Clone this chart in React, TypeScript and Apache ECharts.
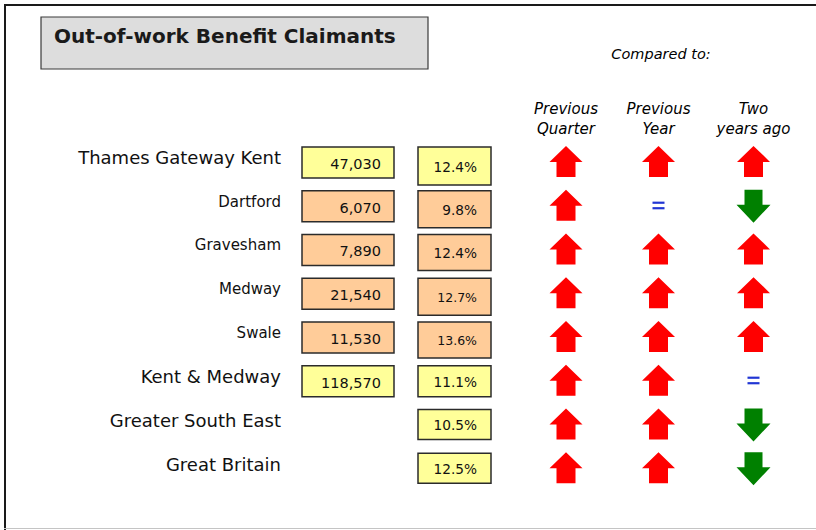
import React, { useEffect, useRef } from 'react';
import * as echarts from 'echarts';

// ---------- data ----------
const titleText = 'Out-of-work Benefit Claimants';
const comparedToText = 'Compared to:';
const areas = [
  'Thames Gateway Kent',
  'Dartford',
  'Gravesham',
  'Medway',
  'Swale',
  'Kent & Medway',
  'Greater South East',
  'Great Britain',
];
const areaLevels = ['sub-region', 'district', 'district', 'district', 'district', 'county', 'region', 'country'];
const claimants: (number | null)[] = [47030, 6070, 7890, 21540, 11530, 118570, null, null];
const claimantRates = [12.4, 9.8, 12.4, 12.7, 13.6, 11.1, 10.5, 12.5];
const comparisonHeaders = ['Previous\nQuarter', 'Previous\nYear', 'Two\nyears ago'];
const changeVsPreviousQuarter = ['up', 'up', 'up', 'up', 'up', 'up', 'up', 'up'];
const changeVsPreviousYear = ['up', 'same', 'up', 'up', 'up', 'up', 'up', 'up'];
const changeVsTwoYearsAgo = ['up', 'down', 'up', 'up', 'up', 'same', 'down', 'down'];

// ---------- layout (positions / sizes / styles) ----------
const FONT = '"DejaVu Sans", Verdana, sans-serif';
const LABEL_RIGHT = 281;
const COUNT_X = 348;
const RATE_X = 454.5;
const COMPARISON_X = [566, 658.5, 753.5];
const COUNT_W = 92;
const COUNT_H = 31;
const RATE_W = 73;
const RATE_H = [38, 37, 36, 37, 36, 31, 30, 30];
const RATE_FONT = [13.7, 13.7, 13.7, 12.5, 12.5, 13.7, 13.7, 13.7];
const YELLOW = '#ffff99';
const ORANGE = '#ffcc99';

const isDistrict = (i: number) => areaLevels[i] === 'district';
const fmtCount = (v: number) => v.toLocaleString('en-GB');
const fmtRate = (v: number) => v.toFixed(1) + '%';

const changeColumns = [changeVsPreviousQuarter, changeVsPreviousYear, changeVsTwoYearsAgo];

export default function App() {
  const ref = useRef<HTMLDivElement>(null);

  useEffect(() => {
    if (!ref.current) return;
    const chart = echarts.init(ref.current, null, { renderer: 'svg' });

    const labelData = areas.map((_, i) => [LABEL_RIGHT, i]);
    const countData: number[][] = [];
    claimants.forEach((v, i) => {
      if (v != null) countData.push([COUNT_X, i, v]);
    });
    const rateData = claimantRates.map((v, i) => [RATE_X, i, v]);
    const changeData: any[] = [];
    const changeDirs: string[] = [];
    changeColumns.forEach((col, c) => {
      col.forEach((d, i) => {
        changeData.push([COMPARISON_X[c], i]);
        changeDirs.push(d);
      });
    });

    const option: any = {
      animation: false,
      backgroundColor: '#ffffff',
      grid: { left: 0, right: 0, top: 141, height: 350 },
      xAxis: { type: 'value', min: 0, max: 816, show: false },
      yAxis: { type: 'category', data: areas, inverse: true, show: false },
      graphic: [
        // frame
        { type: 'line', shape: { x1: 5, y1: 4, x2: 5, y2: 530 }, style: { stroke: '#1a1a1a', lineWidth: 2 } },
        { type: 'line', shape: { x1: 4, y1: 5, x2: 816, y2: 5 }, style: { stroke: '#1a1a1a', lineWidth: 2 } },
        { type: 'line', shape: { x1: 4, y1: 528.5, x2: 816, y2: 528.5 }, style: { stroke: '#c4c4c4', lineWidth: 1 } },
        // title box
        {
          type: 'rect',
          shape: { x: 41, y: 17, width: 387, height: 52 },
          style: { fill: '#dddddd', stroke: '#3a3a3a', lineWidth: 1.2 },
        },
        {
          type: 'text',
          x: 54,
          y: 36,
          style: {
            text: titleText,
            fontFamily: FONT,
            fontSize: 20,
            fontWeight: 'bold',
            fill: '#1a1a1a',
            verticalAlign: 'middle',
            align: 'left',
          },
        },
        {
          type: 'text',
          x: 661,
          y: 54,
          style: {
            text: comparedToText,
            fontFamily: FONT,
            fontSize: 14.5,
            fontStyle: 'italic',
            fill: '#000',
            align: 'center',
            verticalAlign: 'middle',
          },
        },
        ...comparisonHeaders.map((h, c) => ({
          type: 'text',
          x: COMPARISON_X[c],
          y: 119,
          style: {
            text: h,
            fontFamily: FONT,
            fontSize: 15,
            fontStyle: 'italic',
            lineHeight: 20,
            fill: '#000',
            align: 'center',
            verticalAlign: 'middle',
          },
        })),
      ],
      series: [
        {
          type: 'custom',
          name: 'labels',
          coordinateSystem: 'cartesian2d',
          encode: { x: 0, y: 1 },
          data: labelData,
          renderItem: (params: any, api: any) => {
            const i = params.dataIndex;
            const [x, y] = api.coord([api.value(0), api.value(1)]);
            return {
              type: 'text',
              style: {
                text: areas[i],
                x,
                y: y - 5,
                fontFamily: FONT,
                fontSize: isDistrict(i) ? 15 : 18,
                fill: '#111',
                align: 'right',
                verticalAlign: 'middle',
              },
            };
          },
        },
        {
          type: 'custom',
          name: 'claimants',
          coordinateSystem: 'cartesian2d',
          encode: { x: 0, y: 1 },
          data: countData,
          renderItem: (params: any, api: any) => {
            const row = api.value(1);
            const [cx, cy] = api.coord([api.value(0), row]);
            const top = cy - 16;
            return {
              type: 'group',
              children: [
                {
                  type: 'rect',
                  shape: { x: cx - COUNT_W / 2, y: top, width: COUNT_W, height: COUNT_H },
                  style: { fill: isDistrict(row) ? ORANGE : YELLOW, stroke: '#2b2b2b', lineWidth: 1.5 },
                },
                {
                  type: 'text',
                  style: {
                    text: fmtCount(api.value(2)),
                    x: cx + COUNT_W / 2 - 13,
                    y: top + COUNT_H / 2 + 1.5,
                    fontFamily: FONT,
                    fontSize: 14.5,
                    fill: '#111',
                    align: 'right',
                    verticalAlign: 'middle',
                  },
                },
              ],
            };
          },
        },
        {
          type: 'custom',
          name: 'rates',
          coordinateSystem: 'cartesian2d',
          encode: { x: 0, y: 1 },
          data: rateData,
          renderItem: (params: any, api: any) => {
            const row = api.value(1);
            const [cx, cy] = api.coord([api.value(0), row]);
            const top = cy - 16;
            const h = RATE_H[row];
            return {
              type: 'group',
              children: [
                {
                  type: 'rect',
                  shape: { x: cx - RATE_W / 2, y: top, width: RATE_W, height: h },
                  style: { fill: isDistrict(row) ? ORANGE : YELLOW, stroke: '#2b2b2b', lineWidth: 1.5 },
                },
                {
                  type: 'text',
                  style: {
                    text: fmtRate(api.value(2)),
                    x: cx + RATE_W / 2 - 14,
                    y: top + h / 2 + 1,
                    fontFamily: FONT,
                    fontSize: RATE_FONT[row],
                    fill: '#111',
                    align: 'right',
                    verticalAlign: 'middle',
                  },
                },
              ],
            };
          },
        },
        {
          type: 'custom',
          name: 'change',
          coordinateSystem: 'cartesian2d',
          encode: { x: 0, y: 1 },
          data: changeData,
          renderItem: (params: any, api: any) => {
            const dir = changeDirs[params.dataIndex];
            const [cx, cy] = api.coord([api.value(0), api.value(1)]);
            if (dir === 'same') {
              return {
                type: 'group',
                children: [
                  { type: 'rect', shape: { x: cx - 6, y: cy - 5, width: 12, height: 2.2 }, style: { fill: '#2136d4' } },
                  { type: 'rect', shape: { x: cx - 6, y: cy + 0.5, width: 12, height: 2.2 }, style: { fill: '#2136d4' } },
                ],
              };
            }
            if (dir === 'up') {
              const t = cy - 17;
              const m = cy - 1;
              const b = cy + 14;
              return {
                type: 'polygon',
                shape: {
                  points: [
                    [cx, t],
                    [cx + 16.5, m],
                    [cx + 9.5, m],
                    [cx + 9.5, b],
                    [cx - 9.5, b],
                    [cx - 9.5, m],
                    [cx - 16.5, m],
                  ],
                },
                style: { fill: '#ff0000' },
              };
            }
            const t = cy - 17;
            const m = cy - 2;
            const b = cy + 16;
            return {
              type: 'polygon',
              shape: {
                points: [
                  [cx - 9, t],
                  [cx + 9, t],
                  [cx + 9, m],
                  [cx + 17, m],
                  [cx, b],
                  [cx - 17, m],
                  [cx - 9, m],
                ],
              },
              style: { fill: '#008000' },
            };
          },
        },
      ],
    };

    chart.setOption(option);
    return () => chart.dispose();
  }, []);

  return (
    <div
      ref={ref}
      style={{ position: 'absolute', left: 0, top: 0, width: 816, height: 530 }}
    />
  );
}
